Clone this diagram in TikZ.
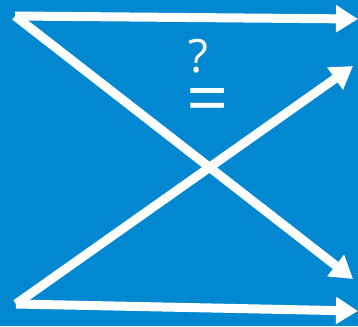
\documentclass[tikz,border=0pt]{standalone}
\usepackage{fontspec}
\setmainfont{Open Sans}
\usetikzlibrary{arrows.meta}
\definecolor{bgblue}{RGB}{2,136,209}

\begin{document}
\begin{tikzpicture}[x=1pt, y=-1pt,
link/.style={-{Triangle[length=22pt,width=26pt]}, line width=9pt, white},
sign/.style={inner sep=0pt, text=white, anchor=base}
]
\fill[bgblue] (0,0) rectangle (358,326);
\useasboundingbox (0,0) rectangle (358,326);
\coordinate (A) at (15,16);
\coordinate (B) at (16,304);
\coordinate (A1) at (358,19);
\coordinate (A2) at (353,279);
\coordinate (B1) at (353,66);
\coordinate (B2) at (358,311);
\draw[link] (A) -- (A1);
\draw[link] (A) -- (A2);
\draw[link] (B) -- (B1);
\draw[link] (B) -- (B2);
% question mark over the equals sign
\node[sign, font=\fontsize{74}{74}\selectfont] (QE) at (208,124.5)
  {\ooalign{=\cr\hidewidth\raisebox{51.5pt}{\fontsize{46}{46}\selectfont ?}\kern20pt\hidewidth\cr}};
\end{tikzpicture}
\end{document}
